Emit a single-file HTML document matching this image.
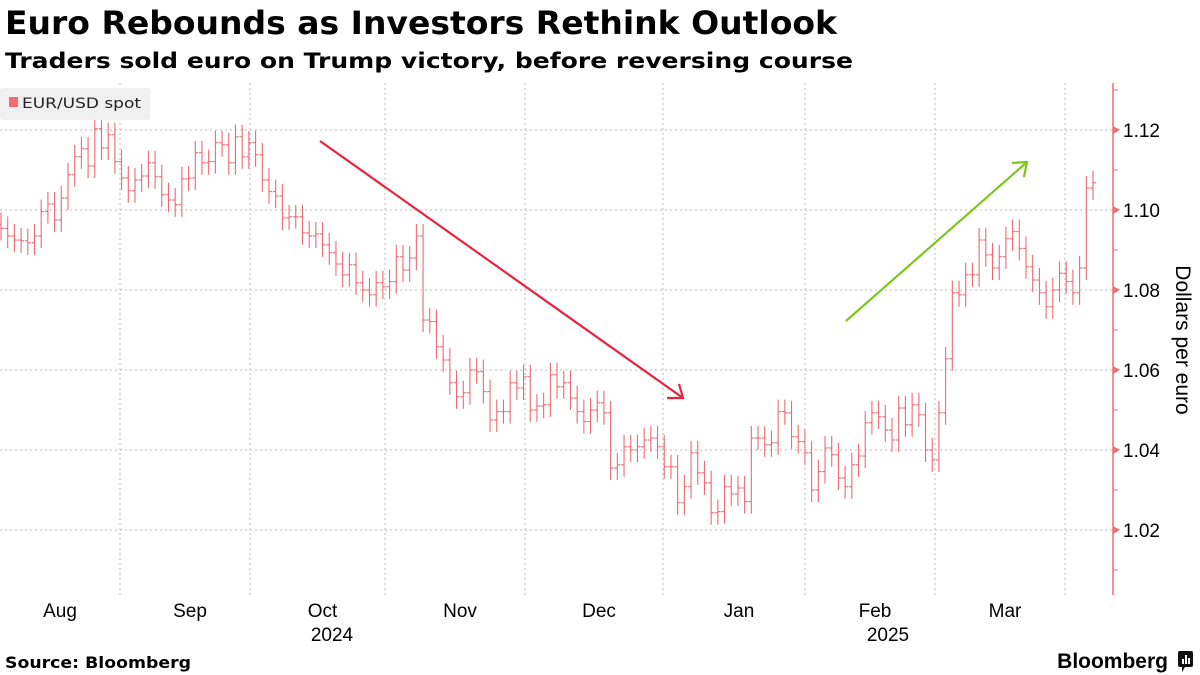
<!DOCTYPE html>
<html><head><meta charset="utf-8"><style>
body{margin:0;background:#fff;width:1200px;height:675px;overflow:hidden;font-family:"Liberation Sans",sans-serif}
svg{position:absolute;left:0;top:0}
</style></head><body>
<svg width="1200" height="675">
<text x="5" y="34" font-size="32" font-weight="bold" fill="#000" textLength="832" lengthAdjust="spacingAndGlyphs" font-family="DejaVu Sans, sans-serif">Euro Rebounds as Investors Rethink Outlook</text>
<text x="5" y="68" font-size="21" font-weight="bold" fill="#000" textLength="848" lengthAdjust="spacingAndGlyphs" font-family="DejaVu Sans, sans-serif">Traders sold euro on Trump victory, before reversing course</text>
<g id="grid"></g>
<g id="bars"></g>
<g id="axis"></g>
<g id="xaxis"></g>
<g>
<rect x="0" y="88" width="150" height="32" fill="#f0f0f0" rx="3"/>
<rect x="9" y="97" width="9" height="10" fill="#f26d6d"/>
<text x="22" y="108" font-size="14" fill="#222" font-family="DejaVu Sans, sans-serif" textLength="119" lengthAdjust="spacingAndGlyphs">EUR/USD spot</text>
</g>
<g stroke="#e8233f" stroke-width="2.2" fill="none">
<line x1="320" y1="141" x2="683" y2="398"/>
<polyline points="667,398 683,398 679,384"/>
</g>
<g stroke="#7cc61e" stroke-width="2.2" fill="none">
<line x1="846" y1="321" x2="1027" y2="162"/>
<polyline points="1012,163 1027,162 1024,177"/>
</g>
<text transform="translate(1176,340) rotate(90)" text-anchor="middle" font-size="21" fill="#000">Dollars per euro</text>
<text x="5" y="668" font-size="16" font-weight="bold" fill="#000" font-family="DejaVu Sans, sans-serif" textLength="186" lengthAdjust="spacingAndGlyphs">Source: Bloomberg</text>
<text x="1168" y="668" text-anchor="end" font-size="21" font-weight="bold" fill="#000">Bloomberg</text>
<g><rect x="1178" y="651" width="15" height="16" rx="2" fill="#111"/><path d="M1182 672l3-5h-3z" fill="#111"/><rect x="1182" y="659" width="2" height="5" fill="#fff"/><rect x="1185" y="655" width="2" height="9" fill="#fff"/><rect x="1188" y="658" width="2" height="6" fill="#fff"/></g>
</svg>
<script>
const closes=[1.0954,1.0935,1.0925,1.0923,1.0918,1.0935,1.0996,1.1015,1.0975,1.1030,1.1088,1.1133,1.1153,1.1110,1.1203,1.1155,1.1188,1.1121,1.1080,1.1048,1.1075,1.1085,1.1118,1.1083,1.1038,1.1025,1.1013,1.1078,1.1080,1.1143,1.1118,1.1121,1.1168,1.1163,1.1118,1.1183,1.1133,1.1168,1.1138,1.1075,1.1046,1.1035,1.0980,1.0983,1.0983,1.0943,1.0935,1.0940,1.0913,1.0893,1.0865,1.0838,1.0863,1.0818,1.0800,1.0788,1.0818,1.0808,1.0821,1.0883,1.0850,1.0880,1.0935,
1.0725,1.0721,1.0658,1.0625,1.0568,1.0533,1.0543,1.0600,1.0596,1.0546,1.0475,1.0496,1.0496,1.0568,1.0555,1.0583,1.0500,1.0510,1.0513,1.0588,1.0558,1.0568,1.0530,1.0496,1.0471,1.0500,1.0518,1.0493,1.0355,1.0363,1.0408,1.0400,1.0408,1.0425,1.0430,1.0408,1.0358,1.0358,1.0268,1.0308,1.0393,1.0343,1.0318,1.0243,1.0246,1.0308,
1.0290,1.0305,1.0271,1.0430,1.0430,1.0413,1.0418,1.0496,1.0493,1.0433,1.0421,1.0393,1.0300,1.0346,1.0405,1.0388,1.0330,1.0308,1.0363,1.0385,1.0468,1.0493,1.0483,1.0450,1.0425,1.0505,1.0463,1.0513,1.0488,1.0400,1.0375,1.0493,1.0628,1.0793,1.0788,1.0838,1.0838,1.0925,1.0888,1.0855,1.0883,1.0928,1.0946,1.0904,1.0858,1.0825,1.0793,1.0758,1.0800,1.0842,1.0821,1.0793,1.0855,1.1055,1.1068];
const yTicks=[1.02,1.04,1.06,1.08,1.10,1.12];
const yTickLabels=["1.02","1.04","1.06","1.08","1.10","1.12"];
const months=["Aug","Sep","Oct","Nov","Dec","Jan","Feb","Mar"];
const monthStarts=[-10,120,250,385,525,663,805,935,1065];
const years=["2024","2025"];
const NS="http://www.w3.org/2000/svg";
function y(v){return 130+(1.12-v)*4000;}
function x(i){return 1+i*(1092/(closes.length-1));}
function mk(tag,attrs,parent){const e=document.createElementNS(NS,tag);for(const k in attrs)e.setAttribute(k,attrs[k]);parent.appendChild(e);return e;}
const grid=document.getElementById('grid'),bars=document.getElementById('bars'),axis=document.getElementById('axis'),xa=document.getElementById('xaxis');
yTicks.forEach((t,k)=>{
  const l=mk('line',{x1:0,x2:1112,y1:y(t),y2:y(t),stroke:'#bbb','stroke-dasharray':'2,3'},grid);
  
  
  const tr=mk('path',{d:`M1113 ${y(t)-4}L1120 ${y(t)}L1113 ${y(t)+4}Z`,fill:'#f26d6d'},axis);
  
  
  const tx=mk('text',{x:1123,y:y(t)+7,'font-size':19,fill:'#000'},axis);
  tx.textContent=yTickLabels[k];
  
  
  const mn=mk('line',{x1:1113,x2:1118,y1:y(t+0.01),y2:y(t+0.01),stroke:'#f26d6d'},axis);
  
  
});
const mn0=mk('line',{x1:1113,x2:1118,y1:y(1.01),y2:y(1.01),stroke:'#f26d6d'},axis);


const ax=mk('line',{x1:1113,x2:1113,y1:83,y2:595,stroke:'#f26d6d','stroke-width':1.5},axis);


monthStarts.slice(1).forEach(m=>{
  const l=mk('line',{x1:m,x2:m,y1:83,y2:595,stroke:'#bbb','stroke-dasharray':'2,3'},grid);
  
  
});
months.forEach((m,k)=>{
  const t=mk('text',{x:(monthStarts[k]+monthStarts[k+1])/2+5,y:617,'font-size':19,'text-anchor':'middle',fill:'#000'},xa);
  t.textContent=m;
  
  
});
[[years[0],332],[years[1],888]].forEach(([s,px])=>{
  const t=mk('text',{x:px,y:641,'font-size':19,'text-anchor':'middle',fill:'#000'},xa);
  t.textContent=s;
  
  
});
closes.forEach((c,i)=>{
  const o=i>0?closes[i-1]:c+0.001;
  const hi=Math.max(o,c)+0.003,lo=Math.min(o,c)-0.003;
  const g=mk('g',{stroke:'#ec6a72','stroke-width':1.1},bars);
  
  
  const xx=x(i);
  mk('line',{x1:xx,x2:xx,y1:y(hi),y2:y(lo)},g);
  mk('line',{x1:xx-3,x2:xx,y1:y(o),y2:y(o)},g);
  mk('line',{x1:xx,x2:xx+3,y1:y(c),y2:y(c)},g);
});
</script>
</body></html>
